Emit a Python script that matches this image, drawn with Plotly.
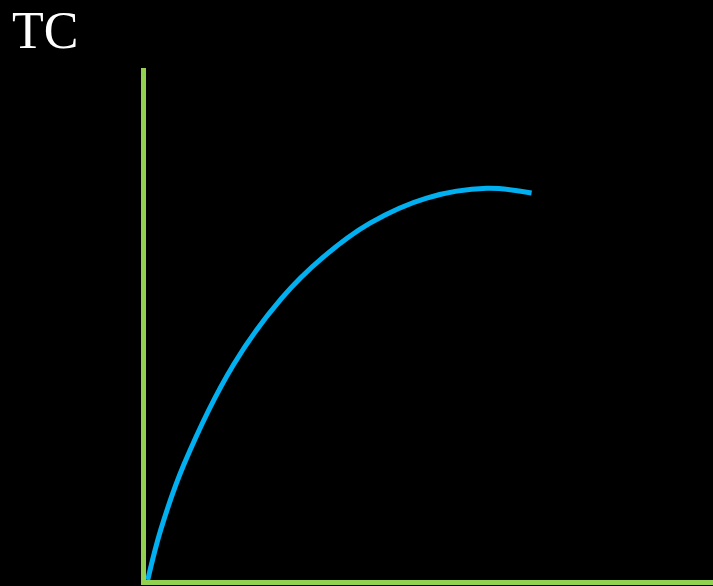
import plotly.graph_objects as go

# ===== DATOS (curva TC) =====
cantidad = [0.3, 2.6, 6.7, 15.4, 23.9, 31.3, 39.5, 49.5, 60.1, 68.0]
costo_total = [0, 9.8, 22.6, 42.0, 55.0, 63.1, 69.7, 74.6, 76.5, 75.6]

# ===== COLORES =====
COLORS = {
    'bg': '#000000',
    'curve': '#00B0F0',
    'axis': '#92D050',
    'title': '#FFFFFF',
}

fig = go.Figure()

fig.add_trace(go.Scatter(
    x=cantidad,
    y=costo_total,
    mode='lines',
    line=dict(color=COLORS['curve'], width=5, shape='spline', smoothing=1.0),
    hoverinfo='skip',
    showlegend=False,
))

fig.update_layout(
    width=713,
    height=586,
    paper_bgcolor=COLORS['bg'],
    plot_bgcolor=COLORS['bg'],
    margin=dict(l=146, r=0, t=68, b=6),
    title=dict(
        text='TC',
        font=dict(family='Liberation Serif, Times New Roman, serif', size=52, color=COLORS['title']),
        xref='container', x=0.017, xanchor='left',
        yref='container', y=1.0, yanchor='top',
        pad=dict(t=12),
    ),
    xaxis=dict(
        range=[0, 100],
        showgrid=False, zeroline=False, showticklabels=False, ticks='',
        showline=True, linecolor=COLORS['axis'], linewidth=5,
    ),
    yaxis=dict(
        range=[0, 100],
        showgrid=False, zeroline=False, showticklabels=False, ticks='',
        showline=True, linecolor=COLORS['axis'], linewidth=5,
    ),
)

# quitar el margen del body para que el gráfico ocupe toda la ventana
fig.write_html(
    "out.html",
    config={'displayModeBar': False},
    post_script="document.body.style.margin='0';document.body.style.overflow='hidden';",
)
